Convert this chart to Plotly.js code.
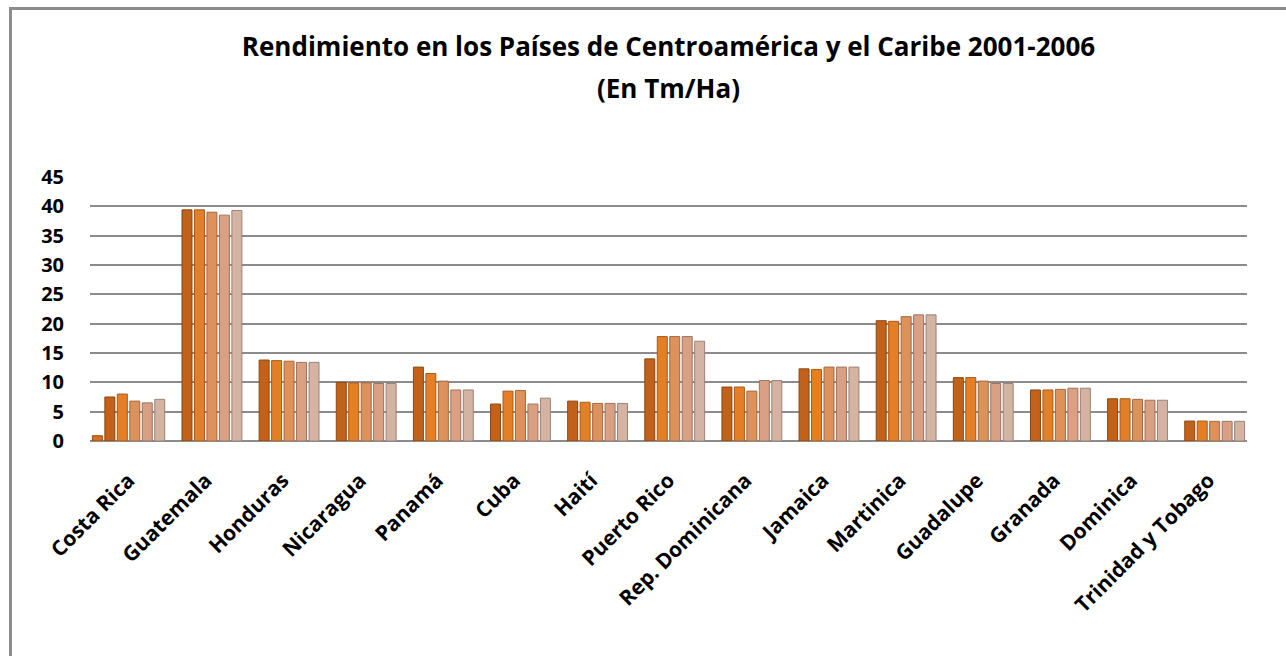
<!DOCTYPE html>
<html>
<head>
<meta charset="utf-8">
<script src="https://cdn.plot.ly/plotly-3.0.1.min.js"></script>
<style>
  html, body { margin: 0; padding: 0; background: #ffffff; }
  #wrap { position: relative; width: 1286px; height: 656px; overflow: hidden; }
  #frame { position: absolute; left: 9px; top: 7px; width: 1300px; height: 700px;
           border-left: 3px solid #8c8c8c; border-top: 3px solid #8c8c8c; box-sizing: border-box; pointer-events: none; }
  #chart { position: absolute; left: 0; top: 0; width: 1286px; height: 656px; }
</style>
</head>
<body>
<div id="wrap">
  <div id="chart"></div>
  <div id="frame"></div>
</div>
<script>
const countries = ["Costa Rica", "Guatemala", "Honduras", "Nicaragua", "Panamá", "Cuba", "Haití",
  "Puerto Rico", "Rep. Dominicana", "Jamaica", "Martinica", "Guadalupe", "Granada", "Dominica", "Trinidad y Tobago"];
const years = ["2001", "2002", "2003", "2004", "2005", "2006"];

const y2001 = [0.9, null, null, null, null, null, null, null, null, null, null, null, null, null, null];
const y2002 = [7.5, 39.4, 13.8, 10.0, 12.6, 6.3, 6.8, 14.0, 9.2, 12.3, 20.5, 10.8, 8.7, 7.2, 3.4];
const y2003 = [8.0, 39.4, 13.7, 9.9, 11.5, 8.5, 6.6, 17.8, 9.2, 12.2, 20.4, 10.8, 8.7, 7.2, 3.4];
const y2004 = [6.8, 39.0, 13.6, 9.9, 10.2, 8.6, 6.4, 17.8, 8.5, 12.6, 21.2, 10.2, 8.8, 7.1, 3.35];
const y2005 = [6.5, 38.5, 13.4, 9.8, 8.7, 6.3, 6.4, 17.8, 10.3, 12.6, 21.5, 9.8, 9.0, 6.95, 3.35];
const y2006 = [7.1, 39.3, 13.4, 9.8, 8.7, 7.3, 6.4, 17.0, 10.3, 12.6, 21.5, 9.8, 9.0, 6.95, 3.35];

const series = [y2001, y2002, y2003, y2004, y2005, y2006];
const fills = ["#D8701E", "#C2621A", "#E57F25", "#DD915B", "#D9A084", "#D5B3A3"];
const edges = ["#9A4A0E", "#8E4510", "#A85A18", "#A66840", "#9E7360", "#9A8276"];

const traces = series.map((vals, i) => ({
  type: "bar",
  name: years[i],
  x: countries,
  y: vals,
  marker: { color: fills[i], line: { color: edges[i], width: 1 } },
  hoverinfo: "x+y+name"
}));

const layout = {
  width: 1286, height: 656,
  paper_bgcolor: "#ffffff", plot_bgcolor: "#ffffff",
  margin: { l: 90, r: 39, t: 177, b: 215 },
  barmode: "group", bargap: 0.03, bargroupgap: 0.2,
  showlegend: false,
  font: { family: "Open Sans, sans-serif", color: "#000000" },
  title: {
    text: "<b>Rendimiento en los Países de Centroamérica y el Caribe 2001-2006</b>",
    font: { family: "Open Sans, sans-serif", size: 26, color: "#000000" },
    x: 0.5, xref: "paper", xanchor: "center",
    y: 1 - 47 / 656, yref: "container", yanchor: "middle"
  },
  annotations: [{
    text: "<b>(En Tm/Ha)</b>", xref: "paper", yref: "paper", x: 0.5, y: 1,
    xanchor: "center", yanchor: "middle", yshift: 89, showarrow: false,
    font: { family: "Open Sans, sans-serif", size: 26, color: "#000000" }
  }],
  xaxis: {
    type: "category",
    tickangle: -45,
    tickfont: { family: "Open Sans, sans-serif", size: 21, color: "#000000", weight: "bold" },
    showgrid: false, showline: false, ticks: "", zeroline: false,
    ticklabelshift: 0, ticklabelstandoff: 22
  },
  yaxis: {
    range: [0, 45], dtick: 5, tick0: 0,
    showgrid: true, gridcolor: "#8c8c8c", gridwidth: 2,
    zeroline: true, zerolinecolor: "#8c8c8c", zerolinewidth: 2,
    showline: false, ticks: "",
    tickfont: { family: "Open Sans, sans-serif", size: 20, color: "#000000", weight: "bold" },
    ticklabelstandoff: 25
  }
};

Plotly.newPlot("chart", traces, layout, { displayModeBar: false, staticPlot: true });
</script>
</body>
</html>
